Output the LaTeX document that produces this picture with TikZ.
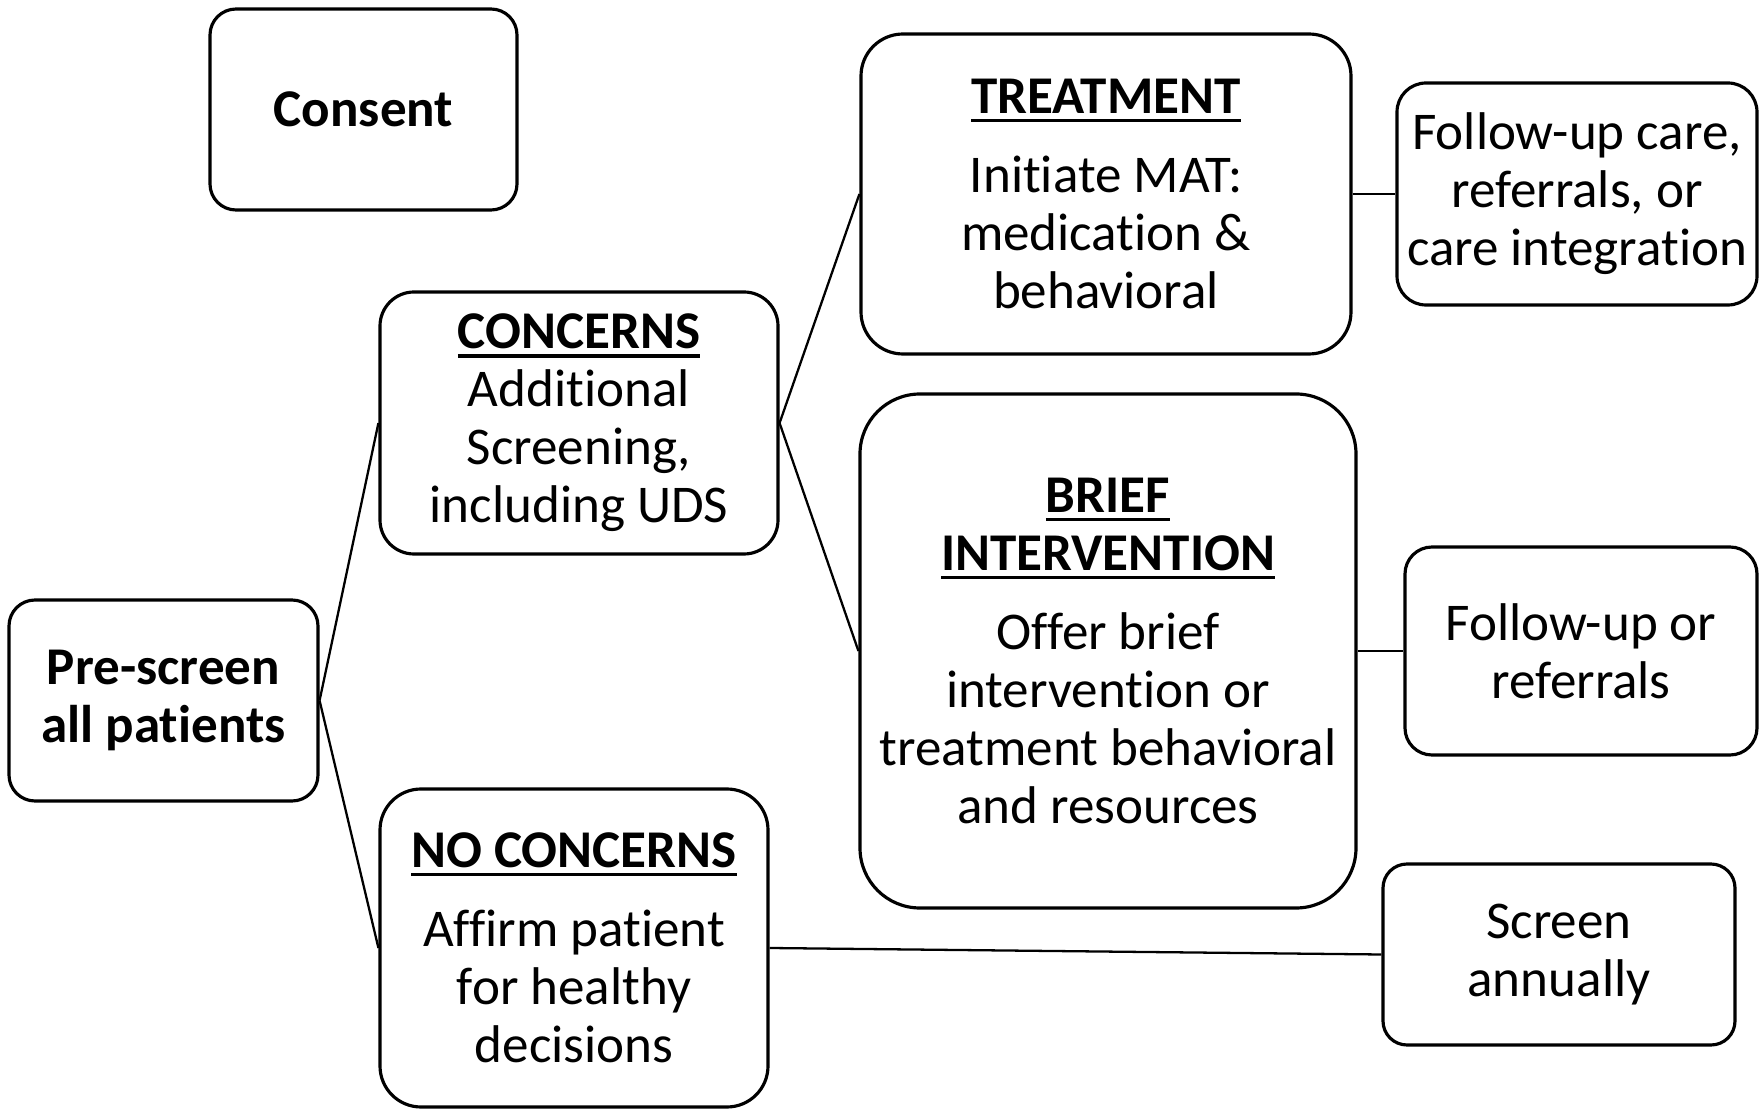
\documentclass[tikz,border=0pt]{standalone}
\usepackage{fontspec}
\setmainfont{Carlito}[RawFeature={-liga;-clig;-dlig;-calt;-rlig}]
\usetikzlibrary{positioning}
\tikzstyle{stage}=[draw,line width=0.9pt,align=center,inner sep=0pt,font=\fontsize{15.1}{16.5}\selectfont]
\newcommand{\ulhead}[1]{\setbox0\hbox{\bfseries #1}\rlap{\rule[-2.5pt]{\wd0}{1pt}}\box0}

\begin{document}
\begin{tikzpicture}
  [link/.style={line width=0.65pt}]
\useasboundingbox (0,0) rectangle (17.6,-11.09);
\node[stage,rounded corners=2.6mm,minimum width=3.07cm,minimum height=2.01cm] (consent) at (3.635,-1.095) {\textbf{Consent}};
\node[stage,rounded corners=2.6mm,minimum width=3.09cm,minimum height=2.01cm] (prescreen) at (1.635,-7.005) {\textbf{Pre-screen}\\\textbf{all patients}};
\node[stage,rounded corners=3.4mm,minimum width=3.98cm,minimum height=2.62cm] (concerns) at (5.79,-4.23) {\ulhead{CONCERNS}\\Additional\\Screening,\\including UDS};
\node[stage,rounded corners=4.1mm,minimum width=3.88cm,minimum height=3.18cm] (noconcerns) at (5.74,-9.48) {\ulhead{NO CONCERNS}\\[6pt]Affirm patient\\for healthy\\decisions};
\node[stage,rounded corners=4.2mm,minimum width=4.90cm,minimum height=3.20cm] (treatment) at (11.06,-1.94) {\ulhead{TREATMENT}\\[6pt]Initiate MAT:\\medication \&\\behavioral};
\node[stage,rounded corners=6mm,minimum width=4.96cm,minimum height=5.14cm] (brief) at (11.08,-6.51) {\ulhead{BRIEF}\\\ulhead{INTERVENTION}\\[6pt]Offer brief\\intervention or\\treatment behavioral\\and resources};
\node[stage,rounded corners=2.9mm,minimum width=3.60cm,minimum height=2.22cm] (followcare) at (15.77,-1.94) {Follow-up care,\\referrals, or\\care integration};
\node[stage,rounded corners=2.7mm,minimum width=3.52cm,minimum height=2.08cm] (followref) at (15.81,-6.51) {Follow-up or\\referrals};
\node[stage,rounded corners=2.4mm,minimum width=3.52cm,minimum height=1.81cm] (screen) at (15.59,-9.545) {Screen\\annually};
\path[link]
(prescreen.east) edge (concerns.west)
(prescreen.east) edge (noconcerns.west)
(concerns.east) edge (treatment.west)
(concerns.east) edge (brief.west)
(treatment.east) edge (followcare.west)
(brief.east) edge (followref.west)
(noconcerns.east) edge (screen.west);
\end{tikzpicture}
\end{document}
